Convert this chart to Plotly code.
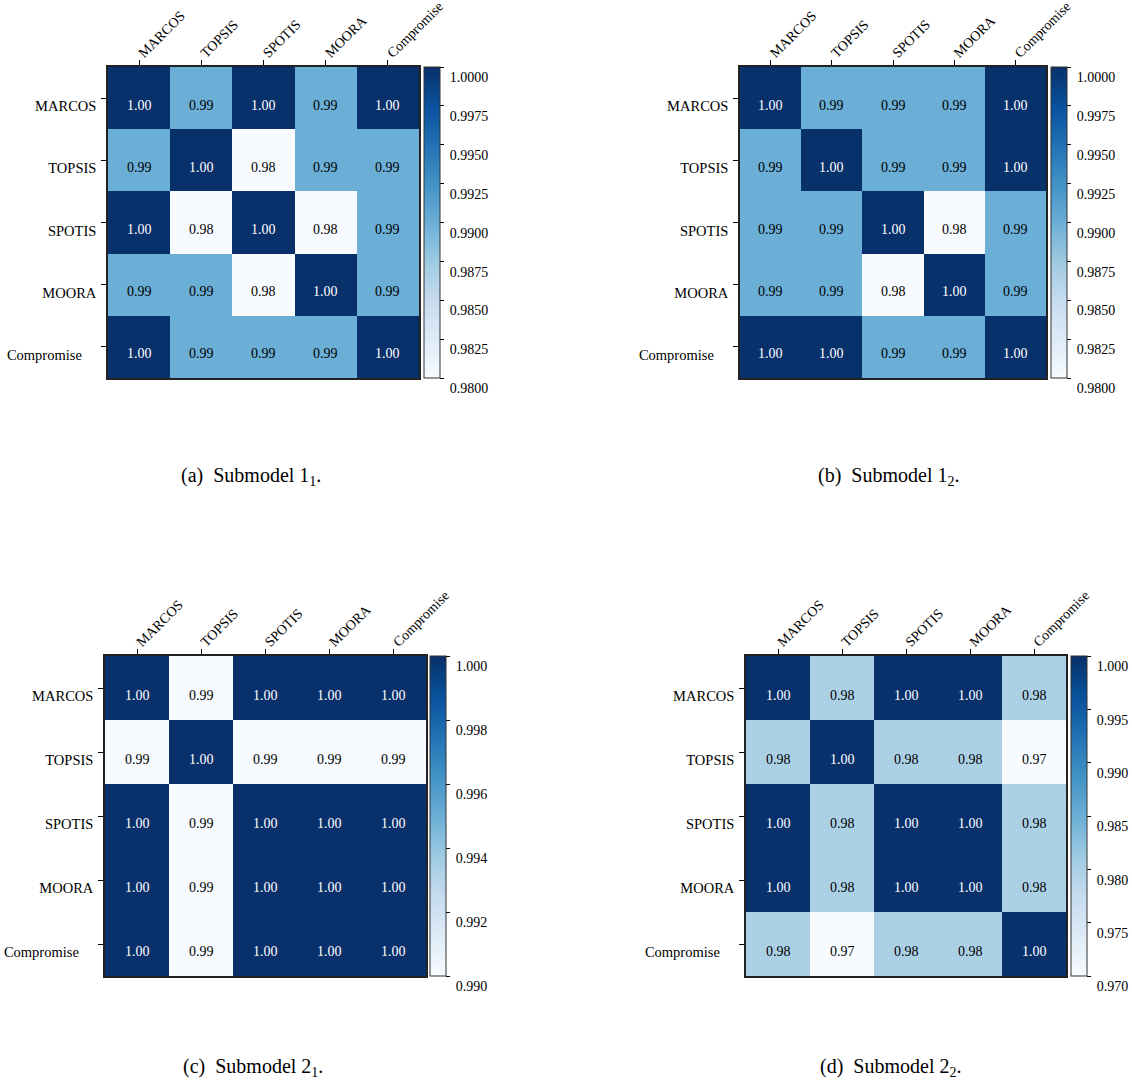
import plotly.graph_objects as go

# Methods compared in every submodel
methods = ["MARCOS", "TOPSIS", "SPOTIS", "MOORA", "Compromise"]
# y tick text; the last label carries a little trailing padding
row_labels = ["MARCOS", "TOPSIS", "SPOTIS", "MOORA", "Compromise\u00a0\u00a0\u00a0\u00a0"]

# Rank correlation matrices (rows/cols in the order of `methods`)
corr_1_1 = [
    [1.00, 0.99, 1.00, 0.99, 1.00],
    [0.99, 1.00, 0.98, 0.99, 0.99],
    [1.00, 0.98, 1.00, 0.98, 0.99],
    [0.99, 0.99, 0.98, 1.00, 0.99],
    [1.00, 0.99, 0.99, 0.99, 1.00],
]
corr_1_2 = [
    [1.00, 0.99, 0.99, 0.99, 1.00],
    [0.99, 1.00, 0.99, 0.99, 1.00],
    [0.99, 0.99, 1.00, 0.98, 0.99],
    [0.99, 0.99, 0.98, 1.00, 0.99],
    [1.00, 1.00, 0.99, 0.99, 1.00],
]
corr_2_1 = [
    [1.00, 0.99, 1.00, 1.00, 1.00],
    [0.99, 1.00, 0.99, 0.99, 0.99],
    [1.00, 0.99, 1.00, 1.00, 1.00],
    [1.00, 0.99, 1.00, 1.00, 1.00],
    [1.00, 0.99, 1.00, 1.00, 1.00],
]
corr_2_2 = [
    [1.00, 0.98, 1.00, 1.00, 0.98],
    [0.98, 1.00, 0.98, 0.98, 0.97],
    [1.00, 0.98, 1.00, 1.00, 0.98],
    [1.00, 0.98, 1.00, 1.00, 0.98],
    [0.98, 0.97, 0.98, 0.98, 1.00],
]

# Colour scale limits and colorbar ticks per panel
cmins = [0.98, 0.98, 0.99, 0.97]
cmaxs = [1.00, 1.00, 1.00, 1.00]
cbar_ticks = [
    [0.98, 0.9825, 0.985, 0.9875, 0.99, 0.9925, 0.995, 0.9975, 1.0],
    [0.98, 0.9825, 0.985, 0.9875, 0.99, 0.9925, 0.995, 0.9975, 1.0],
    [0.990, 0.992, 0.994, 0.996, 0.998, 1.000],
    [0.970, 0.975, 0.980, 0.985, 0.990, 0.995, 1.000],
]
cbar_decimals = [4, 4, 3, 3]
captions = [
    "(a)\u00a0\u00a0Submodel 1<sub>1</sub>.",
    "(b)\u00a0\u00a0Submodel 1<sub>2</sub>.",
    "(c)\u00a0\u00a0Submodel 2<sub>1</sub>.",
    "(d)\u00a0\u00a0Submodel 2<sub>2</sub>.",
]
matrices = [corr_1_1, corr_1_2, corr_2_1, corr_2_2]

W, H = 1132, 1083
FONT = "Liberation Serif, Times New Roman, serif"

# Matplotlib-style "Blues"
blues = ["#f7fbff", "#deebf7", "#c6dbef", "#9ecae1", "#6baed6",
         "#4292c6", "#2171b5", "#08519c", "#08306b"]
colorscale = [[i / (len(blues) - 1), c] for i, c in enumerate(blues)]

# Panel boxes in pixels: (left, right, top, bottom), colorbar left edge
boxes = [
    (108, 419, 67, 378, 424),
    (740, 1046, 67, 378, 1051),
    (105, 426, 656, 976, 430),
    (746, 1066, 656, 976, 1071),
]
caption_pos = [(251, 476), (888, 476), (253, 1067), (890, 1067)]
TEXT_DROP = 7  # labels sit slightly below their tick / cell centre

fig = go.Figure()
annotations = []

for k, (z, box) in enumerate(zip(matrices, boxes)):
    left, right, top, bottom, cb_left = box
    n = k + 1
    xa = "x" if n == 1 else f"x{n}"
    ya = "y" if n == 1 else f"y{n}"
    ca = "coloraxis" if n == 1 else f"coloraxis{n}"

    fig.add_trace(go.Heatmap(
        z=z, x=methods, y=methods, coloraxis=ca,
        xaxis=xa, yaxis=ya, hoverinfo="skip",
    ))

    # value labels in each cell
    lo, hi = cmins[k], cmaxs[k]
    for i, row in enumerate(z):
        for j, v in enumerate(row):
            norm = (v - lo) / (hi - lo)
            annotations.append(dict(
                x=methods[j], y=methods[i], xref=xa, yref=ya,
                text=f"{v:.2f}", showarrow=False, yshift=-TEXT_DROP,
                font=dict(family=FONT, size=14,
                          color="white" if norm > 0.6 else "black"),
            ))

    xdom = [left / W, right / W]
    ydom = [1 - bottom / H, 1 - top / H]
    axis_common = dict(
        showline=True, mirror=True, linecolor="#222", linewidth=1.5,
        ticks="outside", ticklen=5, tickwidth=1, tickcolor="black",
        showgrid=False, zeroline=False, fixedrange=True, automargin=False,
    )
    cb_text = ["\u00a0\u00a0" + f"{v:.{cbar_decimals[k]}f}" for v in cbar_ticks[k]]
    fig.update_layout(**{
        ("xaxis" if n == 1 else f"xaxis{n}"): dict(
            domain=xdom, anchor=ya, side="top", tickangle=-45,
            tickmode="array", tickvals=methods, ticktext=methods,
            ticklabelstandoff=-6,
            tickfont=dict(family=FONT, size=14, color="black"),
            **axis_common),
        ("yaxis" if n == 1 else f"yaxis{n}"): dict(
            domain=ydom, anchor=xa, autorange="reversed",
            tickmode="array", tickvals=methods, ticktext=row_labels,
            ticklabelstandoff=2, ticklabelshift=-(TEXT_DROP + 1),
            tickfont=dict(family=FONT, size=14.5, color="black"),
            **axis_common),
        ca: dict(
            colorscale=colorscale, cmin=cmins[k], cmax=cmaxs[k],
            colorbar=dict(
                x=cb_left / W, xanchor="left", xpad=0, ypad=0,
                y=1 - (top + bottom) / 2 / H, yanchor="middle",
                len=bottom - top, lenmode="pixels",
                thickness=16, thicknessmode="pixels",
                outlinewidth=1, outlinecolor="#333",
                ticks="outside", ticklen=4, tickwidth=1, tickcolor="black",
                ticklabelposition="outside bottom",
                tickmode="array", tickvals=cbar_ticks[k], ticktext=cb_text,
                tickfont=dict(family=FONT, size=14, color="black"),
            ),
        ),
    })

    cx, cy = caption_pos[k]
    annotations.append(dict(
        x=cx / W, y=1 - cy / H, xref="paper", yref="paper",
        text=captions[k], showarrow=False, xanchor="center", yanchor="middle",
        font=dict(family=FONT, size=20, color="black"),
    ))

fig.update_layout(
    width=W, height=H, margin=dict(l=0, r=0, t=0, b=0),
    paper_bgcolor="white", plot_bgcolor="white",
    annotations=annotations, showlegend=False,
)

fig.write_html("out.html")
